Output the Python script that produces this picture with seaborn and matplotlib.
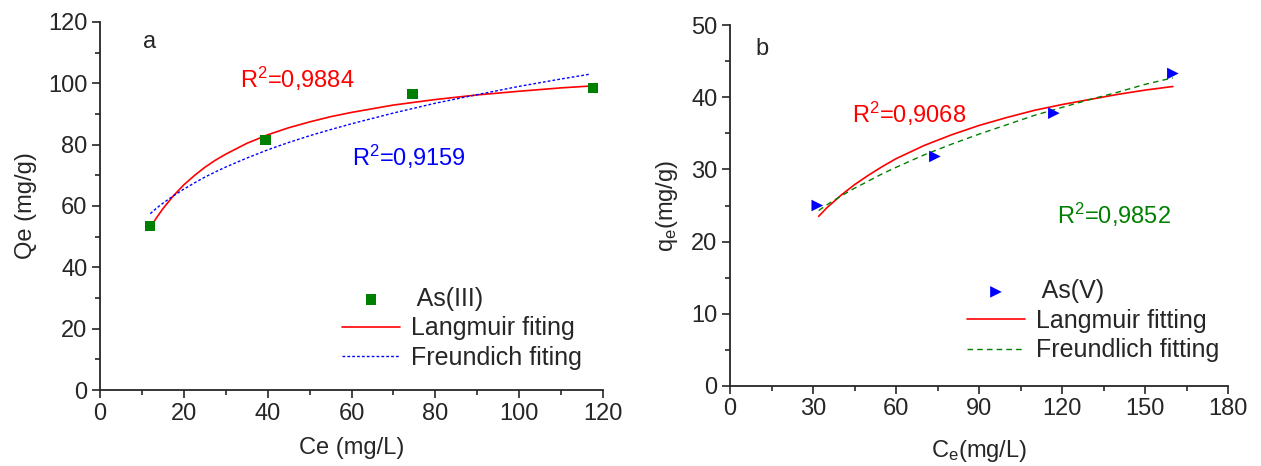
import numpy as np
import pandas as pd
import matplotlib
matplotlib.use("Agg")
import matplotlib.pyplot as plt
import seaborn as sns
from matplotlib.ticker import MultipleLocator

# ---- data ----
# panel a : As(III)
ce_a = [12, 39.5, 74.5, 117.5]
qe_a = [53.5, 81.5, 96.5, 98.5]
fit_x_a = [12, 13.5, 15, 17.5, 20, 22.5, 25, 27.5, 30, 35, 40, 45, 50, 55, 60,
           70, 80, 90, 100, 110, 117]
lang_a = [53.0, 56.2, 59.1, 63.3, 66.9, 69.9, 72.6, 74.9, 76.9, 80.4, 83.2, 85.5,
          87.4, 89.1, 90.5, 92.9, 94.7, 96.2, 97.4, 98.5, 99.1]
freu_a = [57.5, 59.3, 60.9, 63.3, 65.5, 67.5, 69.4, 71.1, 72.7, 75.6, 78.3, 80.7,
          82.9, 84.9, 86.8, 90.3, 93.5, 96.3, 99.0, 101.4, 103.0]

# panel b : As(V)
ce_b = [31.5, 74, 117, 160]
qe_b = [25.0, 31.8, 37.8, 43.3]
fit_x_b = [32, 35, 40, 45, 50, 55, 60, 70, 80, 90, 100, 110, 120, 130, 140, 150, 160]
lang_b = [23.5, 24.7, 26.4, 27.9, 29.2, 30.4, 31.5, 33.3, 34.8, 36.1, 37.2, 38.2,
          39.0, 39.7, 40.4, 41.0, 41.5]
freu_b = [24.3, 25.1, 26.3, 27.4, 28.4, 29.4, 30.3, 32.0, 33.5, 34.9, 36.2, 37.5,
          38.6, 39.7, 40.7, 41.8, 42.7]

sns.set_style("ticks")
plt.rcParams['font.family'] = ['Liberation Sans', 'DejaVu Sans']
plt.rcParams['mathtext.fontset'] = 'custom'
plt.rcParams['mathtext.rm'] = 'Liberation Sans'
plt.rcParams['mathtext.it'] = 'Liberation Sans:italic'

fs = 17
lfs = 18

fig = plt.figure(figsize=(12.61, 4.66), dpi=100)
ax1 = fig.add_axes([0.0793, 0.163, 0.399, 0.79])
ax2 = fig.add_axes([0.579, 0.172, 0.395, 0.774])

leg_kw = dict(frameon=False, fontsize=lfs, handlelength=2.3, handletextpad=0.45,
              labelspacing=0.22, borderpad=0, borderaxespad=0)

# ---- panel a ----
sns.scatterplot(x=ce_a, y=qe_a, ax=ax1, marker="s", color="#008000", s=55,
                edgecolor="none", label=" As(III)", zorder=3)
sns.lineplot(x=fit_x_a, y=lang_a, ax=ax1, color="#ff0000", lw=1.2,
             label="Langmuir fiting")
sns.lineplot(x=fit_x_a, y=freu_a, ax=ax1, color="#0000ff", lw=1.0,
             linestyle=(0, (2, 1.5)), label="Freundich fiting")
ax1.set_xlim(0, 120)
ax1.set_ylim(0, 120)
ax1.xaxis.set_major_locator(MultipleLocator(20))
ax1.xaxis.set_minor_locator(MultipleLocator(10))
ax1.yaxis.set_major_locator(MultipleLocator(20))
ax1.yaxis.set_minor_locator(MultipleLocator(10))
ax1.set_xlabel("Ce (mg/L)", fontsize=fs, labelpad=9)
ax1.set_ylabel("Qe (mg/g)", fontsize=fs, labelpad=8)
ax1.text(0.085, 0.975, "a", transform=ax1.transAxes, fontsize=fs, va="top")
ax1.text(33.5, 98.5, "R$^2$=0,9884", color="#ff0000", fontsize=fs)
ax1.text(60, 73, "R$^2$=0,9159", color="#0000ff", fontsize=fs)
ax1.legend(loc="upper left", bbox_to_anchor=(0.481, 0.28), **leg_kw)

# ---- panel b ----
sns.scatterplot(x=ce_b, y=qe_b, ax=ax2, marker=">", color="#0000ff", s=70,
                edgecolor="none", label=" As(V)", zorder=3)
sns.lineplot(x=fit_x_b, y=lang_b, ax=ax2, color="#ff0000", lw=1.2,
             label="Langmuir fitting")
sns.lineplot(x=fit_x_b, y=freu_b, ax=ax2, color="#008000", lw=1.0,
             linestyle=(0, (4, 3)), label="Freundlich fitting")
ax2.set_xlim(0, 180)
ax2.set_ylim(0, 50)
ax2.xaxis.set_major_locator(MultipleLocator(30))
ax2.xaxis.set_minor_locator(MultipleLocator(15))
ax2.yaxis.set_major_locator(MultipleLocator(10))
ax2.yaxis.set_minor_locator(MultipleLocator(5))
ax2.set_xlabel("C$_\\mathrm{e}$(mg/L)", fontsize=fs, labelpad=13)
ax2.set_ylabel("q$_\\mathrm{e}$(mg/g)", fontsize=fs, labelpad=8)
ax2.text(0.05, 0.965, "b", transform=ax2.transAxes, fontsize=fs, va="top")
ax2.text(44, 36.5, "R$^2$=0,9068", color="#ff0000", fontsize=fs)
ax2.text(118, 22.5, "R$^2$=0,9852", color="#008000", fontsize=fs)
ax2.legend(loc="upper left", bbox_to_anchor=(0.476, 0.295), **leg_kw)

for ax in (ax1, ax2):
    sns.despine(ax=ax)
    ax.tick_params(axis="both", which="major", direction="out", length=6,
                   width=1.2, labelsize=fs, pad=3)
    ax.tick_params(axis="both", which="minor", direction="out", length=3.5,
                   width=1.2)
    for sp in ax.spines.values():
        sp.set_linewidth(1.3)

fig.savefig("out.png", dpi=100)
